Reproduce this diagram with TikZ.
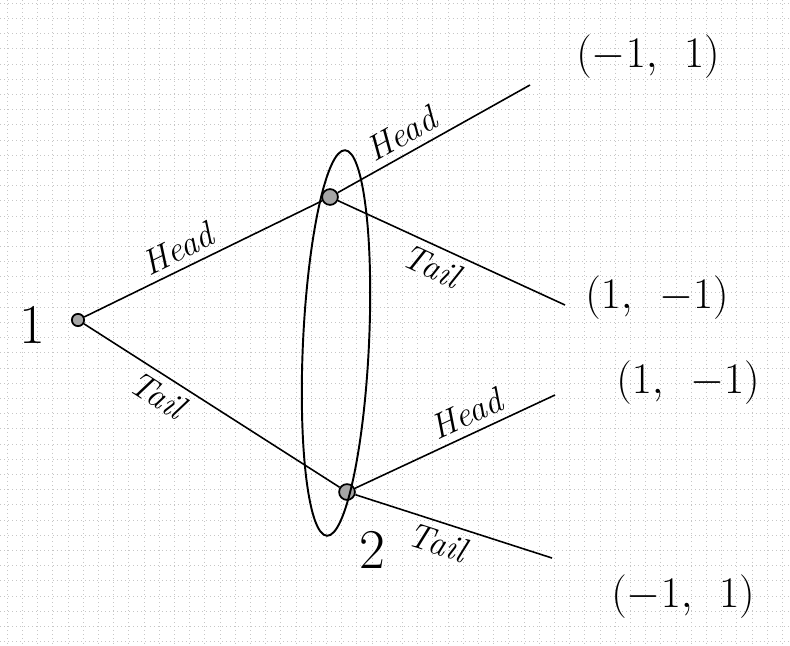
\documentclass[tikz,border=0pt]{standalone}
\usepackage{tikz}
\usetikzlibrary{arrows.meta}

\tikzset{
  gridline/.style={gray!45, line width=0.3pt, dotted},
  branch/.style={line width=0.9pt},
  choice/.style={circle, draw, line width=1pt, fill=gray!70, inner sep=0pt, minimum size=9pt},
  movelabel/.style={font=\fontsize{20}{22}\selectfont\itshape, sloped, inner sep=4pt},
  payoff/.style={font=\fontsize{36}{38}\selectfont},
  player/.style={font=\fontsize{32}{34}\selectfont}
}

\begin{document}
\begin{tikzpicture}[x=0.02cm, y=-0.02cm]

	% Frame of the page
	\useasboundingbox (0,0) rectangle (790,645);
	\fill[white] (0,0) rectangle (790,645);

	% Squared paper
	\foreach \i in {0,...,51}
		\draw[gridline] (7+15.2*\i,0) -- (7+15.2*\i,645);
	\foreach \j in {0,...,42}
		\draw[gridline] (0,3+15.2*\j) -- (790,3+15.2*\j);

	% Decision nodes
	\node[choice, minimum size=7pt] (root) at (78,320) {};
	\node[choice] (upper) at (330,197) {};
	\node[choice] (lower) at (347,492) {};

	% Player labels
	\node[player] (pone) at (32,325) {1};
	\node[player] (ptwo) at (372,550) {2};

	% Information set of player 2
	\draw[line width=1.1pt, rotate around={-2.7:(336,343)}] (336,343) ellipse (33 and 193);

	% End points of the branches
	\coordinate (hh) at (530,85);
	\coordinate (ht) at (565,305);
	\coordinate (th) at (555,395);
	\coordinate (tt) at (552,558);

	% Payoffs
	\node[payoff] (phh) at (648,57) {$(-1,\ 1)$};
	\node[payoff] (pht) at (657,298) {$(1,\ -1)$};
	\node[payoff] (pth) at (688,383) {$(1,\ -1)$};
	\node[payoff] (ptt) at (683,597) {$(-1,\ 1)$};

	% Moves of player 1
	\draw[branch] (root) -- node[movelabel, above, pos=0.43] {Head} (upper);
	\draw[branch] (root) -- node[movelabel, below, pos=0.33] {Tail} (lower);

	% Moves of player 2
	\draw[branch] (upper) -- node[movelabel, above, pos=0.38] {Head} (hh);
	\draw[branch] (upper) -- node[movelabel, below, pos=0.45] {Tail} (ht);
	\draw[branch] (lower) -- node[movelabel, above, pos=0.6] {Head} (th);
	\draw[branch] (lower) -- node[movelabel, below, pos=0.45] {Tail} (tt);

\end{tikzpicture}
\end{document}
